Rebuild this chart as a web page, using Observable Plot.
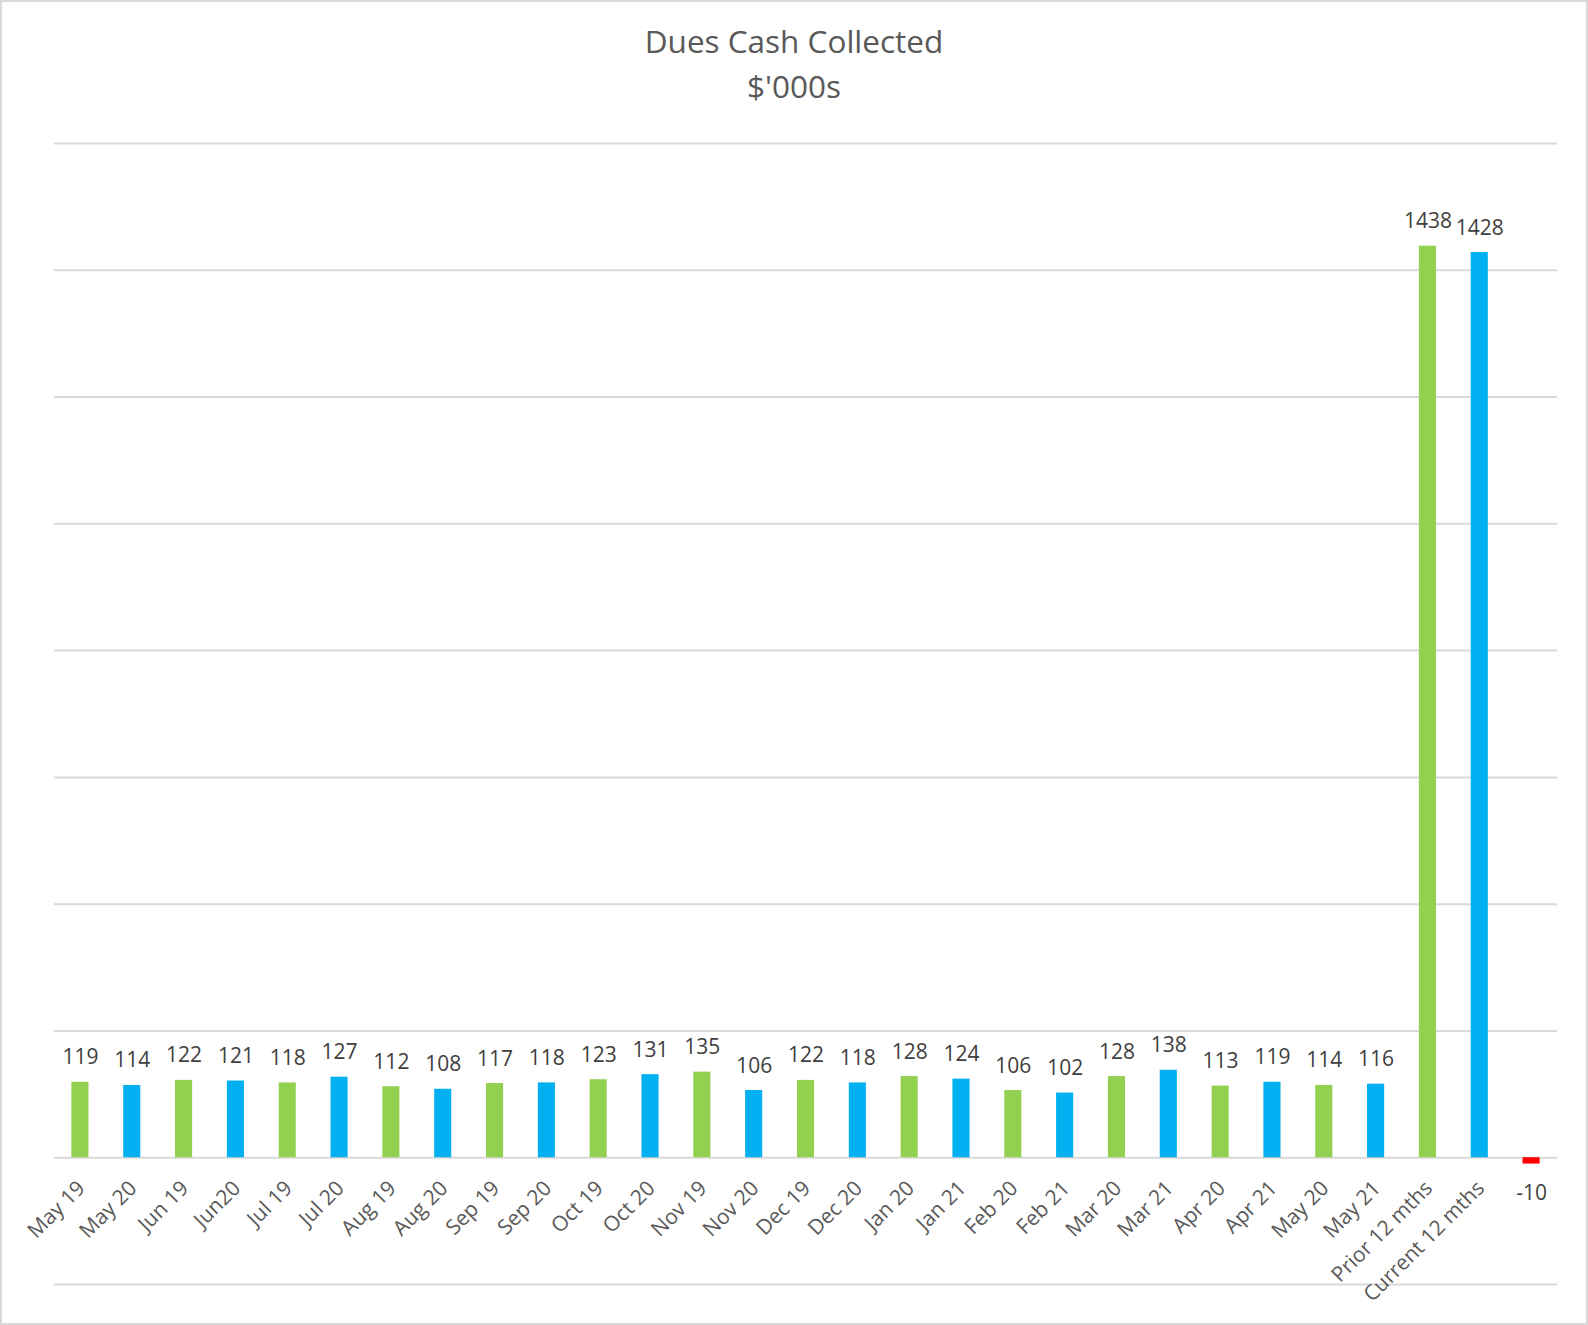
<!DOCTYPE html>
<html>
<head>
<meta charset="utf-8">
<script src="https://cdn.jsdelivr.net/npm/d3@7"></script>
<script src="https://cdn.jsdelivr.net/npm/@observablehq/plot@0.6"></script>
<style>
  html, body { margin: 0; padding: 0; background: #fff; }
  #wrap { width: 1588px; height: 1325px; box-sizing: border-box; border: 2px solid #d9d9d9; background: #fff; overflow: hidden; }
  #title { height: 108px; box-sizing: border-box; padding-top: 16px; text-align: center; font-family: "Open Sans", sans-serif; font-size: 31.5px; line-height: 45px; color: #595959; }
  #chart svg { display: block; }
</style>
</head>
<body>
<div id="wrap">
  <div id="title">Dues Cash Collected<br>$'000s</div>
  <div id="chart"></div>
</div>
<script>
const labels = ["May 19","May 20","Jun 19","Jun20","Jul 19","Jul 20","Aug 19","Aug 20","Sep 19","Sep 20","Oct 19","Oct 20","Nov 19","Nov 20","Dec 19","Dec 20","Jan 20","Jan 21","Feb 20","Feb 21","Mar 20","Mar 21","Apr 20","Apr 21","May 20","May 21","Prior 12 mths","Current 12 mths",""];
const values = [119,114,122,121,118,127,112,108,117,118,123,131,135,106,122,118,128,124,106,102,128,138,113,119,114,116,1438,1428,-10];
const series = ["Prior","Current","Prior","Current","Prior","Current","Prior","Current","Prior","Current","Prior","Current","Prior","Current","Prior","Current","Prior","Current","Prior","Current","Prior","Current","Prior","Current","Prior","Current","Prior","Current","Variance"];
const seriesNames = ["Prior","Current","Variance"];
const seriesColors = ["#92D050","#00B0F0","#FF0000"];
const yTicks = [-200,0,200,400,600,800,1000,1200,1400,1600];

const data = values.map((v, i) => ({i, v, s: series[i], label: labels[i]}));

const chart = Plot.plot({
  width: 1584,
  height: 1211,
  marginLeft: 52,
  marginRight: 29,
  marginTop: 33,
  marginBottom: 37,
  style: {fontFamily: "Open Sans, sans-serif", background: "#fff"},
  x: {type: "band", domain: d3.range(values.length), paddingInner: 0.67, paddingOuter: 0.335, round: false, axis: null},
  y: {domain: [-200, 1600], axis: null},
  color: {domain: seriesNames, range: seriesColors},
  marks: [
    Plot.ruleY(yTicks, {stroke: "#d9d9d9", strokeWidth: 2}),
    Plot.barY(data, {x: "i", y: "v", fill: "s"}),
    Plot.text(data.filter(d => d.v >= 0), {x: "i", y: "v", text: d => String(d.v), lineAnchor: "bottom", dy: -18, fontSize: 21, fill: "#404040"}),
    Plot.text(data.filter(d => d.v < 0), {x: "i", y: "v", text: d => String(d.v), lineAnchor: "top", dy: 21, fontSize: 21, fill: "#404040"}),
    Plot.text(data, {x: "i", y: d => 0, text: "label", rotate: -45, textAnchor: "end", lineAnchor: "middle", dx: 1, dy: 27, fontSize: 21, fill: "#595959"})
  ]
});
document.getElementById("chart").appendChild(chart);
</script>
</body>
</html>
